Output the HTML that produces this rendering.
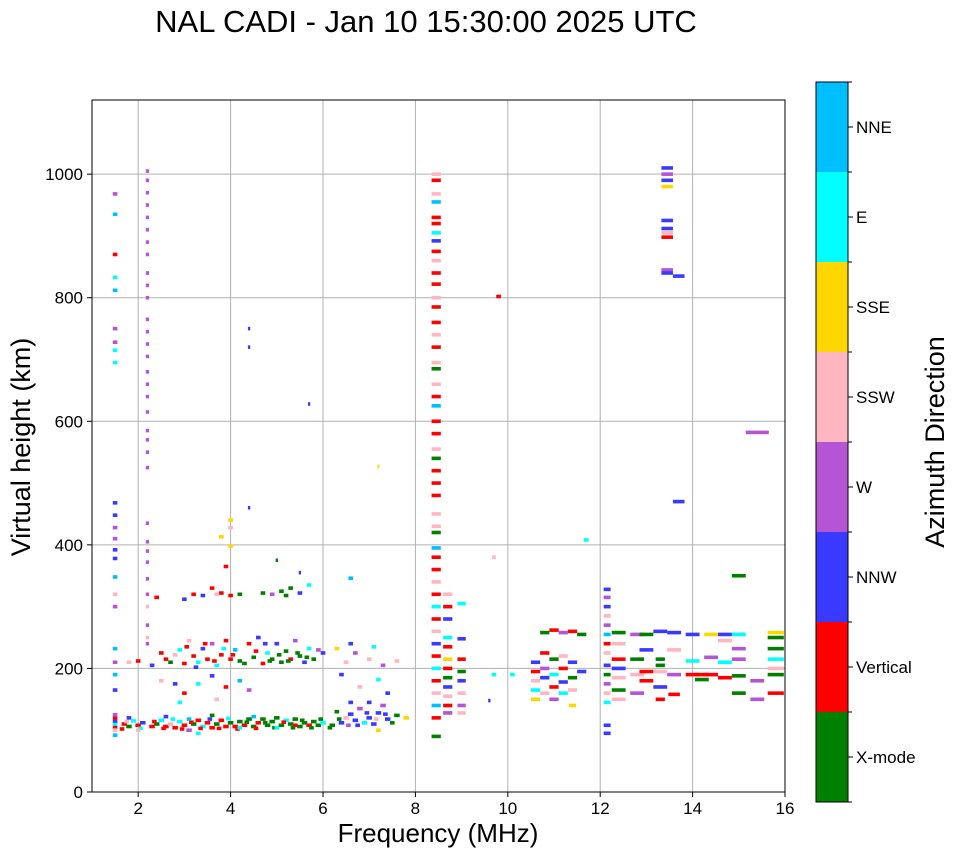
<!DOCTYPE html>
<html><head><meta charset="utf-8">
<style>
body{margin:0;background:#fff;font-family:"Liberation Sans",sans-serif;}
svg text{font-family:"Liberation Sans",sans-serif;}
</style></head>
<body>
<svg id="chart" width="958" height="857" xmlns="http://www.w3.org/2000/svg">
<text x="426" y="32" font-size="31" text-anchor="middle">NAL CADI - Jan 10 15:30:00 2025 UTC</text>
<g id="grid"></g>
<g id="marks"></g>
<rect x="92" y="100" width="693" height="692" fill="none" stroke="#000" stroke-width="1"/>
<g id="axes"></g>
<text x="438" y="842" font-size="26" text-anchor="middle">Frequency (MHz)</text>
<text transform="translate(30,447) rotate(-90)" font-size="27" text-anchor="middle">Virtual height (km)</text>
<g id="cbar"></g>
<text transform="translate(944,442) rotate(-90)" font-size="27" text-anchor="middle">Azimuth Direction</text>
</svg>
<script>
const xTicks=[2,4,6,8,10,12,14,16];
const yTicks=[0,200,400,600,800,1000];
const dirLabels=["X-mode","Vertical","NNW","W","SSW","SSE","E","NNE"];
const dirColors=["#008000","#ff0000","#3a3aff","#b455d6","#ffb6c1","#ffd700","#00ffff","#00bfff"];
// [freq MHz, height km, direction index, width MHz]
const echoes=[
[1.5,105,1,.1],[1.5,110,6,.1],[1.5,115,2,.1],[1.5,120,1,.1],[1.5,100,4,.1],[1.5,125,3,.1],[1.5,92,7,.1],[1.5,165,2,.1],[1.5,190,7,.1],[1.5,210,3,.1],[1.5,232,7,.1],[1.5,300,3,.1],[1.5,320,4,.1],[1.5,348,7,.1],[1.5,378,2,.1],[1.5,392,2,.1],[1.5,410,3,.1],[1.5,428,3,.1],[1.5,448,2,.1],[1.5,468,2,.1],[1.5,695,6,.1],[1.5,715,6,.1],[1.5,728,3,.1],[1.5,750,3,.1],[1.5,812,7,.1],[1.5,833,6,.1],[1.5,870,1,.1],[1.5,935,7,.1],[1.5,968,3,.1],
[2.2,1005,3,.07],[2.2,990,3,.07],[2.2,970,3,.07],[2.2,950,3,.07],[2.2,930,3,.07],[2.2,910,3,.07],[2.2,890,3,.07],[2.2,870,3,.07],[2.2,840,3,.07],[2.2,820,3,.07],[2.2,800,3,.07],[2.2,765,3,.07],[2.2,745,3,.07],[2.2,725,3,.07],[2.2,705,3,.07],[2.2,680,3,.07],[2.2,660,3,.07],[2.2,640,3,.07],[2.2,615,3,.07],[2.2,585,3,.07],[2.2,570,3,.07],[2.2,550,3,.07],[2.2,525,3,.07],[2.2,435,3,.07],[2.2,405,3,.07],[2.2,390,3,.07],[2.2,372,3,.07],[2.2,345,3,.07],[2.2,320,3,.07],[2.2,300,4,.07],[2.2,270,3,.07],[2.2,250,4,.07],[2.2,240,3,.07],
[1.7,110,1,.12],[1.8,106,0,.12],[1.9,115,6,.12],[2.0,108,1,.12],[2.1,112,2,.12],[2.3,106,1,.12],[2.4,110,0,.12],[2.5,116,6,.12],[2.6,106,1,.12],[2.7,110,4,.12],[2.8,104,1,.12],[2.9,114,6,.12],[3.0,108,1,.12],[3.1,100,3,.12],[3.2,110,0,.12],[3.3,116,1,.12],[3.4,106,6,.12],[3.5,112,1,.12],[3.6,104,1,.12],[3.7,110,0,.12],[3.8,116,1,.12],[3.9,106,1,.12],[4.0,112,0,.12],[4.1,106,1,.12],[4.2,114,0,.12],[4.3,108,1,.12],[4.4,118,0,.12],[4.5,106,0,.12],[4.6,112,1,.12],[4.7,118,0,.12],[4.8,108,0,.12],[4.9,114,0,.12],[5.0,120,0,.12],[5.1,108,0,.12],[5.2,116,6,.12],[5.3,110,0,.12],[5.4,118,0,.12],[5.5,106,0,.12],[5.6,112,0,.12],[5.7,108,1,.12],[5.8,114,0,.12],[5.9,108,0,.12],[6.0,112,6,.12],[6.2,108,0,.12],[6.4,112,2,.12],[6.5,120,4,.12],[6.6,126,2,.12],[6.7,116,2,.12],[6.8,135,3,.12],[6.9,112,6,.12],[7.0,120,2,.12],[7.1,110,2,.12],[7.2,128,2,.12],[7.3,140,3,.12],[7.4,118,2,.12],[7.6,124,0,.12],[7.8,120,5,.12],
[1.65,102,1,.1],[1.75,114,4,.1],[2.05,103,6,.1],[2.35,114,1,.1],[2.55,103,1,.1],[2.75,118,6,.1],[2.95,102,1,.1],[3.15,113,1,.1],[3.35,103,1,.1],[3.55,118,2,.1],[3.75,103,1,.1],[3.95,119,6,.1],[4.15,102,1,.1],[4.35,113,0,.1],[4.55,103,1,.1],[4.75,112,0,.1],[4.95,104,0,.1],[5.15,113,1,.1],[5.35,104,0,.1],[5.55,116,0,.1],[5.75,104,0,.1],[5.95,118,0,.1],[6.15,104,0,.1],[6.35,118,0,.1],[6.55,108,3,.1],[6.75,108,2,.1],[6.95,128,2,.1],[7.15,118,4,.1],[7.35,126,2,.1],
[1.8,120,2,.1],[2.0,100,4,.1],[2.6,122,2,.1],[3.1,118,7,.1],[3.3,95,6,.1],[3.6,124,0,.1],[4.2,104,6,.1],[4.5,122,7,.1],[5.0,104,6,.1],[5.4,108,1,.1],[6.3,130,0,.1],[6.6,145,2,.1],[7.0,145,2,.1],[7.2,100,5,.1],[7.5,112,0,.1],
[1.8,210,4,.1],[2.0,212,1,.1],[2.3,205,2,.1],[2.5,225,1,.1],[2.7,210,0,.1],[2.9,230,6,.1],[3.0,208,1,.1],[3.1,245,4,.1],[3.2,220,1,.1],[3.3,210,6,.1],[3.4,232,2,.1],[3.5,215,1,.1],[3.6,240,3,.1],[3.7,205,6,.1],[3.8,222,1,.1],[3.9,245,1,.1],[4.0,215,1,.1],[4.1,230,7,.1],[4.2,212,0,.1],[4.4,240,1,.1],[4.5,218,0,.1],[4.6,250,2,.1],[4.7,208,1,.1],[4.8,225,6,.1],[4.9,215,0,.1],[5.0,240,2,.1],[5.1,210,0,.1],[5.2,228,0,.1],[5.3,215,1,.1],[5.4,245,3,.1],[5.5,220,0,.1],[5.6,210,2,.1],[5.7,232,6,.1],[5.8,215,0,.1],[6.0,225,2,.1],[6.3,232,5,.1],[6.5,210,4,.1],[6.6,240,2,.1],[6.7,225,3,.1],[7.0,215,4,.1],[7.1,235,6,.1],[7.3,205,3,.1],[7.6,212,4,.1],
[2.6,215,1,.1],[2.8,222,4,.1],[3.05,235,1,.1],[3.25,202,2,.1],[3.45,240,1,.1],[3.65,212,1,.1],[3.85,232,6,.1],[4.05,222,1,.1],[4.3,208,0,.1],[4.55,228,1,.1],[4.75,240,2,.1],[4.85,212,0,.1],[5.05,222,0,.1],[5.25,212,0,.1],[5.45,225,0,.1],[5.65,218,0,.1],[5.9,230,3,.1],
[2.5,180,4,.1],[2.8,175,2,.1],[3.0,160,1,.1],[3.3,175,6,.1],[3.6,188,2,.1],[3.9,170,1,.1],[4.2,180,7,.1],[4.4,165,3,.1],[3.7,150,4,.1],[2.9,145,6,.1],[6.4,190,2,.1],[6.8,170,4,.1],[7.2,182,6,.1],[7.4,160,2,.1],
[2.4,315,1,.1],[3.0,312,2,.1],[3.2,320,1,.1],[3.4,318,2,.1],[3.6,330,1,.1],[3.7,320,4,.1],[3.8,322,1,.1],[4.0,318,1,.1],[4.2,320,0,.1],[4.7,322,0,.1],[4.9,320,3,.1],[5.1,325,0,.1],[5.2,318,0,.1],[5.3,330,0,.1],[5.5,322,2,.1],[5.7,335,6,.1],[6.6,346,7,.1],[3.9,365,1,.1],[4.0,440,5,.1],[4.0,428,4,.1],[3.8,413,5,.1],[4.4,460,2,.05],[4.4,720,2,.05],[4.4,750,2,.05],[5.7,628,2,.05],[4.0,398,5,.1],[5.0,375,0,.05],[5.5,355,2,.05],[7.2,527,5,.04],[9.8,802,1,.1],[9.7,380,4,.08],
[8.45,1000,4,.2],[8.45,990,1,.2],[8.45,968,4,.2],[8.45,955,7,.2],[8.45,930,1,.2],[8.45,920,1,.2],[8.45,905,6,.2],[8.45,892,2,.2],[8.45,875,1,.2],[8.45,860,4,.2],[8.45,840,1,.2],[8.45,822,1,.2],[8.45,800,4,.2],[8.45,785,1,.2],[8.45,760,1,.2],[8.45,740,4,.2],[8.45,720,1,.2],[8.45,695,4,.2],[8.45,685,0,.2],[8.45,660,4,.2],[8.45,640,1,.2],[8.45,625,7,.2],[8.45,600,1,.2],[8.45,580,1,.2],[8.45,555,4,.2],[8.45,540,0,.2],[8.45,520,1,.2],[8.45,500,1,.2],[8.45,480,1,.2],[8.45,450,4,.2],[8.45,430,4,.2],[8.45,420,0,.2],[8.45,395,7,.2],[8.45,380,1,.2],[8.45,360,1,.2],[8.45,340,4,.2],[8.45,320,1,.2],[8.45,300,6,.2],[8.45,280,1,.2],[8.45,260,4,.2],[8.45,240,2,.2],[8.45,220,1,.2],[8.45,200,6,.2],[8.45,180,1,.2],[8.45,160,4,.2],[8.45,140,7,.2],[8.45,120,1,.2],[8.45,90,0,.2],
[8.7,320,4,.2],[8.7,300,1,.2],[8.7,280,2,.2],[8.7,250,6,.2],[8.7,235,1,.2],[8.7,215,5,.2],[8.7,200,1,.2],[8.7,185,0,.2],[8.7,170,2,.2],[8.7,155,4,.2],[8.7,140,1,.2],[8.7,128,3,.2],[9.0,305,6,.18],[9.0,248,2,.18],[9.0,215,1,.18],[9.0,195,0,.18],[9.0,180,2,.18],[9.0,160,4,.18],[9.0,140,3,.18],[9.0,128,4,.18],[9.7,190,6,.1],[10.1,190,6,.1],[9.6,148,2,.05],
[10.6,210,2,.2],[10.6,195,1,.2],[10.6,180,4,.2],[10.6,165,6,.2],[10.6,150,5,.2],[10.8,258,0,.2],[10.8,225,1,.2],[10.8,200,3,.2],[10.8,185,2,.2],[10.8,160,4,.2],[11.0,262,1,.2],[11.0,215,0,.2],[11.0,190,6,.2],[11.0,170,1,.2],[11.0,150,3,.2],[11.2,258,3,.2],[11.2,220,4,.2],[11.2,200,1,.2],[11.2,178,2,.2],[11.2,160,6,.2],[11.4,260,1,.2],[11.4,210,2,.2],[11.4,185,0,.2],[11.4,165,4,.2],[11.4,140,5,.15],[11.6,255,0,.2],[11.6,195,2,.2],[11.7,408,6,.1],
[12.15,328,2,.15],[12.15,315,3,.15],[12.15,300,2,.15],[12.15,285,4,.15],[12.15,270,3,.15],[12.15,255,7,.15],[12.15,240,1,.15],[12.15,225,4,.15],[12.15,205,2,.15],[12.15,190,0,.15],[12.15,175,3,.15],[12.15,160,4,.15],[12.15,145,6,.15],[12.15,108,2,.15],[12.15,95,2,.15],
[12.4,258,0,.3],[12.4,240,4,.3],[12.4,215,1,.3],[12.4,200,2,.3],[12.4,185,4,.3],[12.4,165,0,.3],[12.4,150,4,.3],[12.8,255,3,.3],[12.8,215,0,.3],[12.8,190,4,.3],[12.8,160,3,.3],[13.0,255,0,.3],[13.0,230,2,.3],[13.0,195,1,.3],[13.0,180,1,.3],[13.3,260,2,.3],[13.3,215,0,.2],[13.3,205,0,.2],[13.3,195,4,.3],[13.3,170,2,.3],[13.3,150,1,.2],[13.6,258,2,.3],[13.6,230,4,.3],[13.6,190,3,.3],[13.6,158,1,.25],
[14.0,255,2,.3],[14.0,212,6,.3],[14.0,190,1,.3],[14.2,190,1,.3],[14.2,182,0,.3],[14.4,255,5,.3],[14.4,218,3,.3],[14.4,190,1,.3],[14.7,255,2,.3],[14.7,245,4,.3],[14.7,210,6,.3],[14.7,185,1,.3],[15.0,255,6,.3],[15.0,232,3,.3],[15.0,215,3,.3],[15.0,188,0,.3],[15.0,160,0,.3],[15.0,350,0,.3],[15.4,180,3,.3],[15.4,150,3,.3],[15.4,582,3,.5],[15.8,258,5,.35],[15.8,250,0,.35],[15.8,232,0,.35],[15.8,215,6,.35],[15.8,200,4,.35],[15.8,190,0,.35],[15.8,160,1,.35],
[13.45,1010,2,.25],[13.45,1000,3,.25],[13.45,990,2,.25],[13.45,980,5,.25],[13.45,925,2,.25],[13.45,912,2,.25],[13.45,905,4,.25],[13.45,898,1,.25],[13.45,845,3,.25],[13.45,840,2,.25],[13.7,835,2,.25],[13.7,470,2,.25]
];
const NS="http://www.w3.org/2000/svg";
const X0=92,X1=785,Y0=792,Y1=100,FMIN=1,FMAX=16,HMAX=1120;
const xs=f=>X0+(f-FMIN)/(FMAX-FMIN)*(X1-X0);
const ys=h=>Y0-h/HMAX*(Y0-Y1);
function mk(tag,attrs,parent){const e=document.createElementNS(NS,tag);for(const k in attrs)e.setAttribute(k,attrs[k]);parent.appendChild(e);return e;}
const grid=document.getElementById('grid'),axes=document.getElementById('axes'),marks=document.getElementById('marks'),cbar=document.getElementById('cbar');
xTicks.forEach(t=>{
 const x=xs(t);
 if(t<FMAX){const g=mk('line',{x1:x,x2:x,y1:Y1,y2:Y0,stroke:'#b0b0b0','stroke-width':1},grid);
 
 }
 mk('line',{x1:x,x2:x,y1:Y0,y2:Y0+5,stroke:'#000'},axes);
 const l=mk('text',{x:x,y:Y0+22,'font-size':17,'text-anchor':'middle'},axes);l.textContent=t;
 
 
});
yTicks.forEach(t=>{
 const y=ys(t);
 if(t>0){const g=mk('line',{x1:X0,x2:X1,y1:y,y2:y,stroke:'#b0b0b0','stroke-width':1},grid);
 
 }
 mk('line',{x1:X0-5,x2:X0,y1:y,y2:y,stroke:'#000'},axes);
 const l=mk('text',{x:X0-9,y:y+6,'font-size':17,'text-anchor':'end'},axes);l.textContent=t;
 
 
});
echoes.forEach(e=>{
 const [f,h,d,w]=e;
 const x=xs(f-w/2),x2=xs(f+w/2);
 const r=mk('rect',{x:x,y:ys(h)-1.8,width:Math.max(1.5,x2-x),height:3.6,fill:dirColors[d]},marks);
 
 
});
const CB0=82,CB1=802,CX=816,CW=32,seg=(CB1-CB0)/dirLabels.length;
dirLabels.forEach((lab,i)=>{
 const y=CB1-(i+1)*seg;
 const r=mk('rect',{x:CX,y:y,width:CW,height:seg,fill:dirColors[i]},cbar);
 
 
 mk('line',{x1:CX+CW,x2:CX+CW+5,y1:y+seg/2,y2:y+seg/2,stroke:'#000'},cbar);
 const t=mk('text',{x:CX+CW+8,y:y+seg/2+6,'font-size':17},cbar);t.textContent=lab;
 
 
});
for(let i=0;i<=dirLabels.length;i++){const y=CB0+i*seg;mk('line',{x1:CX+CW,x2:CX+CW+4,y1:y,y2:y,stroke:'#000'},cbar);}
mk('rect',{x:CX,y:CB0,width:CW,height:CB1-CB0,fill:'none',stroke:'#000'},cbar);
</script>
</body></html>
